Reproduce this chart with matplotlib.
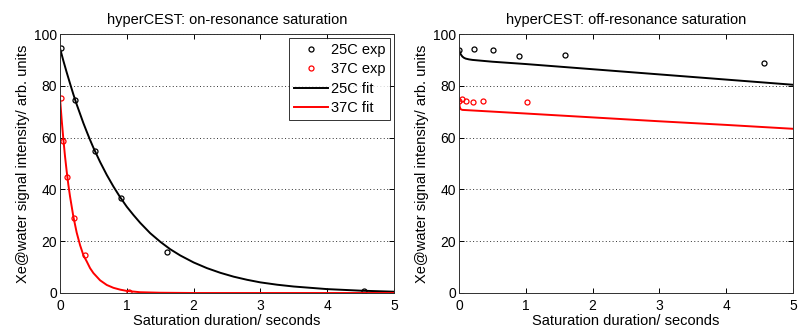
import matplotlib
matplotlib.use("Agg")
import matplotlib.pyplot as plt
from matplotlib.ticker import MultipleLocator

plt.rcParams['font.family'] = ['Liberation Sans', 'DejaVu Sans']

# ---- on-resonance data ----
on_t25 = [0.01, 0.23, 0.52, 0.91, 1.60, 4.55]
on_y25 = [94.5, 74.6, 54.9, 36.8, 16.0, 0.6]
on_t37 = [0.01, 0.05, 0.11, 0.21, 0.37, 1.03]
on_y37 = [75.3, 58.6, 44.9, 28.8, 14.7, 0.5]

on_fit_t25 = [0, 0.05, 0.1, 0.15, 0.2, 0.25, 0.3, 0.35, 0.4, 0.45, 0.5, 0.6, 0.7, 0.8, 0.9, 1.0,
              1.1, 1.2, 1.35, 1.5, 1.65, 1.8, 2.0, 2.2, 2.4, 2.6, 2.8, 3.0, 3.25, 3.5, 3.75,
              4.0, 4.25, 4.5, 4.75, 5.0]
on_fit_y25 = [94.5, 89.7, 85.2, 80.9, 76.7, 72.8, 69.2, 65.6, 62.3, 59.1, 56.1, 50.6, 45.6, 41.1,
              37.0, 33.3, 30.1, 27.1, 23.1, 19.8, 16.9, 14.5, 11.8, 9.6, 7.8, 6.3, 5.1, 4.1,
              3.2, 2.5, 2.0, 1.5, 1.2, 0.9, 0.7, 0.5]
on_fit_t37 = [0, 0.025, 0.05, 0.075, 0.1, 0.125, 0.15, 0.2, 0.25, 0.3, 0.35, 0.4, 0.45, 0.5,
              0.6, 0.7, 0.8, 0.9, 1.0, 1.2, 1.5, 2.0, 5.0]
on_fit_y37 = [75.3, 66.9, 59.5, 52.8, 47.0, 41.8, 37.3, 29.5, 23.3, 18.5, 14.6, 12.2, 9.6, 7.7,
              4.9, 3.1, 2.0, 1.3, 0.8, 0.3, 0.1, 0.0, 0.0]

# ---- off-resonance data ----
off_t25 = [0.0, 0.22, 0.51, 0.90, 1.59, 4.56]
off_y25 = [93.8, 94.2, 93.9, 91.5, 91.9, 88.9]
off_t37 = [0.0, 0.05, 0.11, 0.21, 0.36, 1.02]
off_y37 = [74.2, 75.0, 74.2, 73.6, 74.1, 73.7]

off_fit_t25 = [0, 0.01, 0.025, 0.05, 0.075, 0.1, 0.15, 0.2, 0.5, 1, 2, 3, 4, 5]
off_fit_y25 = [94.3, 93.2, 92.2, 91.3, 90.8, 90.5, 90.2, 90.0, 89.3, 88.4, 86.4, 84.4, 82.4, 80.4]
off_fit_t37 = [0, 0.01, 0.02, 0.03, 0.05, 1, 2, 3, 4, 5]
off_fit_y37 = [74.2, 72.0, 71.2, 70.9, 70.7, 69.3, 67.8, 66.3, 64.9, 63.4]

titles = ["hyperCEST: on-resonance saturation", "hyperCEST: off-resonance saturation"]
xlabel = "Saturation duration/ seconds"
ylabel = "Xe@water signal intensity/ arb. units"
legend_labels = ["25C exp", "37C exp", "25C fit", "37C fit"]

fig = plt.figure(figsize=(7.98, 3.29), dpi=100)
ax1 = fig.add_axes([60/798, 36/329, 334/798, 259/329])
ax2 = fig.add_axes([459/798, 36/329, 334/798, 259/329])

tick_fs = 10
lab_fs = 10.5
title_fs = 10.5

def style(ax, title):
    ax.set_xlim(0, 5)
    ax.set_ylim(0, 100)
    ax.xaxis.set_major_locator(MultipleLocator(1))
    ax.yaxis.set_major_locator(MultipleLocator(20))
    ax.tick_params(direction='in', top=True, right=True, labelsize=tick_fs,
                   length=3.5, width=0.7)
    ax.tick_params(axis='x', pad=4.5)
    ax.tick_params(axis='y', pad=2)
    ax.yaxis.grid(True, linestyle=(0, (1, 2.5)), color='#303030', linewidth=0.7)
    ax.set_axisbelow(True)
    ax.set_title(title, fontsize=title_fs, pad=7)
    ax.set_xlabel(xlabel, fontsize=lab_fs, labelpad=0.5)
    ax.set_ylabel(ylabel, fontsize=lab_fs, labelpad=3)
    for s in ax.spines.values():
        s.set_linewidth(0.7)
        s.set_color('#303030')

mk = dict(marker='o', markersize=3.6, markerfacecolor='none', markeredgewidth=0.9, linestyle='none')
lw = 1.4

ax1.plot(on_t25, on_y25, color='black', label=legend_labels[0], **mk)
ax1.plot(on_t37, on_y37, color='red', label=legend_labels[1], **mk)
ax1.plot(on_fit_t25, on_fit_y25, color='black', lw=lw, label=legend_labels[2])
ax1.plot(on_fit_t37, on_fit_y37, color='red', lw=lw, label=legend_labels[3])
style(ax1, titles[0])
leg = ax1.legend(loc='upper right', fontsize=10.5, frameon=True, fancybox=False,
                 edgecolor='black', borderaxespad=0.25, handlelength=2.3, handletextpad=0.2,
                 labelspacing=0.38, borderpad=0.35)
leg.get_frame().set_linewidth(0.7)

ax2.plot(off_t25, off_y25, color='black', **mk)
ax2.plot(off_t37, off_y37, color='red', **mk)
ax2.plot(off_fit_t25, off_fit_y25, color='black', lw=lw)
ax2.plot(off_fit_t37, off_fit_y37, color='red', lw=lw)
style(ax2, titles[1])

fig.savefig("out.png", dpi=100)
